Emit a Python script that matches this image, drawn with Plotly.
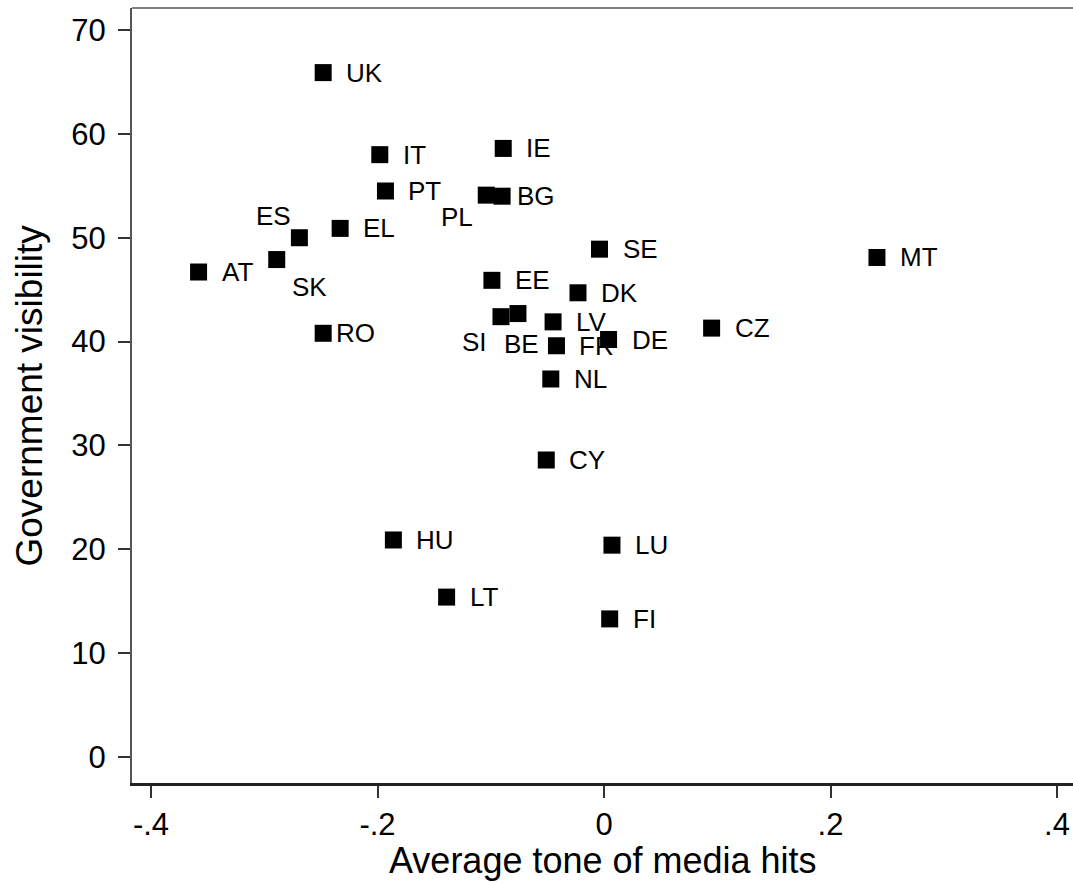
import plotly.graph_objects as go

countries = ["UK", "IT", "IE", "PT", "PL", "BG", "ES", "EL", "SE", "MT", "AT", "SK", "EE",
             "DK", "SI", "BE", "LV", "CZ", "RO", "DE", "FR", "NL", "CY", "HU", "LU", "LT", "FI"]
tone = [-0.248, -0.198, -0.089, -0.193, -0.104, -0.090, -0.269, -0.233, -0.004, 0.241, -0.358,
        -0.289, -0.099, -0.023, -0.091, -0.076, -0.045, 0.095, -0.248, 0.004, -0.042, -0.047,
        -0.051, -0.186, 0.007, -0.139, 0.005]
visibility = [65.9, 58.0, 58.6, 54.5, 54.1, 54.0, 50.0, 50.9, 48.9, 48.1, 46.7,
              47.9, 45.9, 44.7, 42.4, 42.7, 41.9, 41.3, 40.8, 40.2, 39.6, 36.4,
              28.6, 20.9, 20.4, 15.4, 13.3]

x_tickvals = [-0.4, -0.2, 0, 0.2, 0.4]
x_ticktext = ["-.4", "-.2", "0", ".2", ".4"]
y_tickvals = [0, 10, 20, 30, 40, 50, 60, 70]
y_ticktext = ["0", "10", "20", "30", "40", "50", "60", "70"]

x_title = "Average tone of media hits"
y_title = "Government visibility"

# label placement (style only): (xanchor, yanchor, xshift, yshift)
default_place = ("left", "middle", 21, 0)
special_place = {
    "ES": ("center", "middle", -26, 22),
    "SK": ("center", "middle", 33, -27),
    "PL": ("center", "middle", -29, -22),
    "SI": ("center", "middle", -26, -25),
    "BE": ("center", "middle", 4, -30),
    "RO": ("left", "middle", 11, 0),
    "BG": ("left", "middle", 13, 0),
}

FONT = "Liberation Sans, Arial, sans-serif"

fig = go.Figure()
fig.add_trace(go.Scatter(
    x=tone, y=visibility, mode="markers", text=countries,
    marker=dict(symbol="square", size=17, color="black", line=dict(width=0)),
    hovertemplate="%{text}: %{x}, %{y}<extra></extra>",
    showlegend=False,
))

annotations = []
for c, xv, yv in zip(countries, tone, visibility):
    xa, ya, xs, ys = special_place.get(c, default_place)
    annotations.append(dict(
        x=xv, y=yv, xref="x", yref="y", text=c, showarrow=False,
        xanchor=xa, yanchor=ya, xshift=xs, yshift=ys,
        font=dict(family=FONT, size=26, color="black"),
    ))

annotations.append(dict(
    x=0.5, y=-0.0994, xref="paper", yref="paper", text=x_title, showarrow=False,
    xanchor="center", yanchor="middle", font=dict(family=FONT, size=36, color="black"),
))
annotations.append(dict(
    x=-0.1084, y=0.5, xref="paper", yref="paper", text=y_title, showarrow=False,
    xanchor="center", yanchor="middle", textangle=-90,
    font=dict(family=FONT, size=37, color="black"),
))

fig.update_layout(
    width=1073, height=883,
    margin=dict(l=132, r=0, t=8, b=100, pad=0),
    paper_bgcolor="white", plot_bgcolor="white",
    annotations=annotations,
    shapes=[dict(type="line", xref="paper", yref="paper", x0=0, x1=1, y0=1, y1=1,
                 line=dict(color="#555555", width=1.5))],
    xaxis=dict(
        range=[-0.4168, 0.4141], tickvals=x_tickvals, ticktext=x_ticktext,
        showgrid=False, zeroline=False, showline=True, linecolor="#222222", linewidth=3,
        ticks="outside", ticklen=12, tickwidth=1.5, tickcolor="#333333",
        tickfont=dict(family=FONT, size=31, color="black"), automargin=False,
        ticklabelstandoff=0,
    ),
    yaxis=dict(
        range=[-2.5, 72.12], tickvals=y_tickvals, ticktext=y_ticktext,
        showgrid=False, zeroline=False, showline=True, linecolor="#555555", linewidth=2,
        ticks="outside", ticklen=12, tickwidth=1.5, tickcolor="#333333",
        tickfont=dict(family=FONT, size=31, color="black"), automargin=False,
        ticklabelstandoff=6,
    ),
)

fig.write_html(
    "out.html",
    config={"displayModeBar": False},
    post_script="document.body.style.margin='0';document.body.style.overflow='hidden';",
)
